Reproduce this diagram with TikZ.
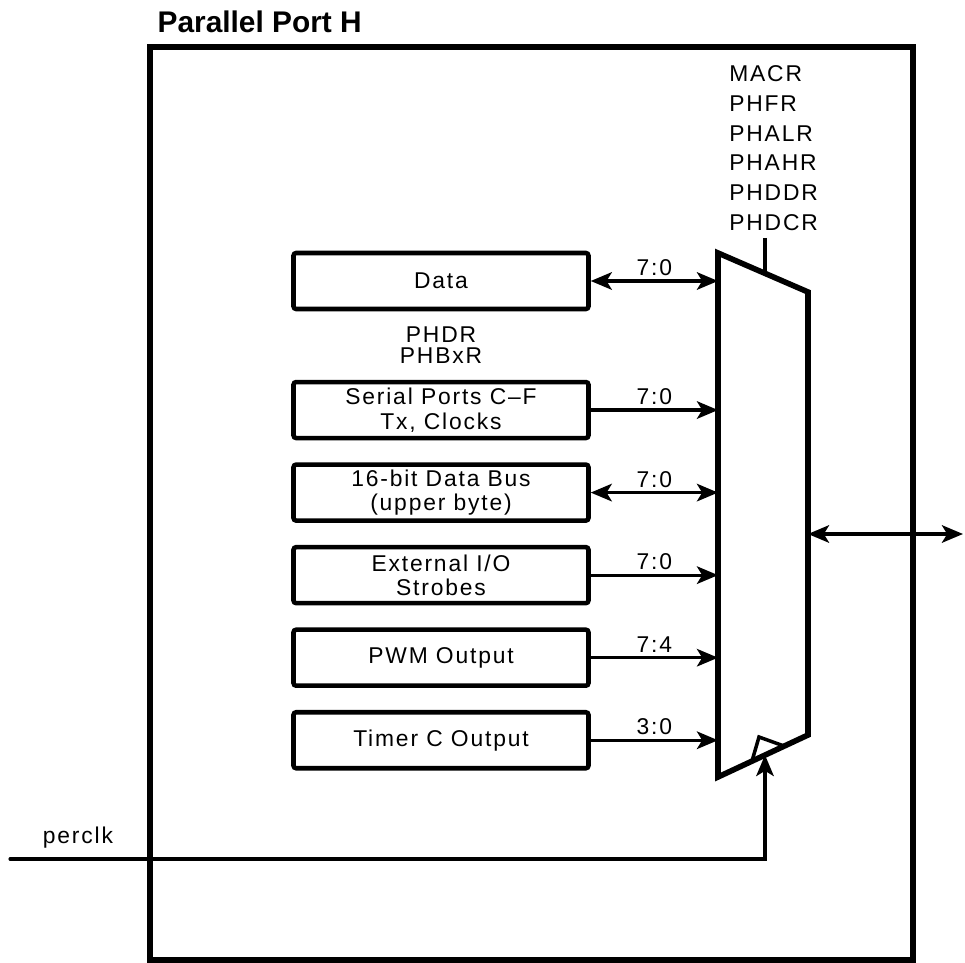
\documentclass[tikz,border=0pt]{standalone}
\usepackage{fontspec}
\setmainfont{Liberation Sans}[LetterSpace=8]
\newfontfamily\titlefont{Liberation Sans}
\usetikzlibrary{arrows.meta, positioning}
\def\vsep{0.44cm}
\def\datasep{1.37cm}

\begin{document}
\begin{tikzpicture}[x=0.02cm, y=-0.02cm, >=Stealth]

  \tikzset{
    portbox/.style = {
      rectangle, draw, line width=3.2pt, inner sep=0pt,
      minimum width=15.26cm, minimum height=18.26cm
    },
    block/.style = {
      rectangle, draw, line width=2.6pt, rounded corners=1.5pt,
      minimum width=5.9cm, minimum height=1.12cm, inner sep=0pt,
      align=center, font=\fontsize{13}{14}\selectfont
    },
    reglist/.style = {
      inner sep=0pt, align=left, font=\fontsize{13}{17}\selectfont
    },
    lbl/.style = {
      inner sep=2pt, font=\fontsize{13}{14}\selectfont
    },
    bus/.style = {
      -{Stealth[length=12pt, width=10pt, inset=3pt]}, line width=1.8pt
    },
    busboth/.style = {
      {Stealth[length=12pt, width=10pt, inset=3pt]}-{Stealth[length=12pt, width=10pt, inset=3pt]},
      line width=1.8pt
    },
    muxline/.style = {
      line width=3.2pt, line join=miter
    }
  }

  \useasboundingbox (0,0) rectangle (965,963);

  % --- Port outline ----------------------------------------------------------
  \node (port) [portbox] at (531.5,503.5) {};
  \node (title) [above right=0.22cm and 0.2cm of port.north west,
                 inner sep=0pt, font=\titlefont\bfseries\fontsize{17}{20}\selectfont]
    {Parallel Port H};

  % --- Function blocks -------------------------------------------------------
  \node (data)   [block] at (441,281) {Data};
  \node (phdr)   [reglist, align=center, font=\fontsize{13}{12}\selectfont,
                  below=0.3cm of data] {PHDR\\PHBxR};
  \node (serial) [block, below=\datasep of data] {Serial Ports C--F\\Tx, Clocks};
  \node (dbus)   [block, below=\vsep of serial]  {16-bit Data Bus\\(upper byte)};
  \node (extio)  [block, below=\vsep of dbus]    {External I/O\\Strobes};
  \node (pwm)    [block, below=\vsep of extio]   {PWM Output};
  \node (timerc) [block, below=\vsep of pwm]     {Timer C Output};

  % --- Multiplexer -----------------------------------------------------------
  \coordinate (mtl) at (718,253);
  \coordinate (mtr) at (808,292);
  \coordinate (mbr) at (808,735);
  \coordinate (mbl) at (718,777);
  \draw [muxline] (mtl) -- (mtr) -- (mbr) -- (mbl) -- cycle;
  \draw [line width=2pt, line join=miter] (752,761) -- (759,737) -- (784,746);

  \node (regs) [reglist, anchor=north west] at (729,65)
    {MACR\\PHFR\\PHALR\\PHAHR\\PHDDR\\PHDCR};
  \coordinate (selin)  at (765,273);
  \coordinate (seltop) at (765,238);
  \draw [line width=1.8pt] (seltop) -- (selin);

  % --- Buses into the mux ----------------------------------------------------
  \draw [busboth] (data.east)   -- node [lbl, above] {7:0} (data -| mtl);
  \draw [bus]     (serial.east) -- node [lbl, above] {7:0} (serial -| mtl);
  \draw [busboth] (dbus.east)   -- node [lbl, above] {7:0} (dbus -| mtl);
  \draw [bus]     (extio.east)  -- node [lbl, above] {7:0} (extio -| mtl);
  \draw [bus]     (pwm.east)    -- node [lbl, above] {7:4} (pwm -| mtl);
  \draw [bus]     (timerc.east) -- node [lbl, above] {3:0} (timerc -| mtl);

  % --- Port pins and clock ---------------------------------------------------
  \coordinate (portout) at (963,534);
  \draw [busboth] (mtr |- portout) -- (portout);

  \coordinate (perclk) at (10,859);
  \coordinate (clk)    at (765,755);
  \node (perclktxt) [lbl, inner sep=0pt] at (78,838) {perclk};
  \draw [bus, line cap=round] (perclk) -| (clk);

\end{tikzpicture}
\end{document}
